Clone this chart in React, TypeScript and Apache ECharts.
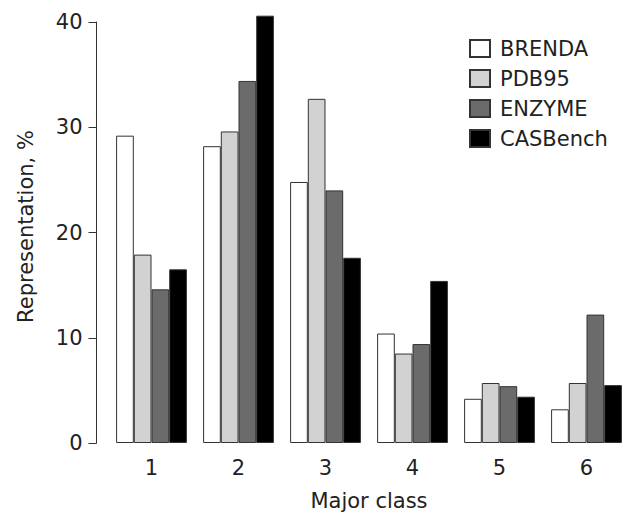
import React, { useEffect, useRef } from "react";
import * as echarts from "echarts";

const categories = ["1", "2", "3", "4", "5", "6"];
const brenda = [29.2, 28.2, 24.8, 10.4, 4.2, 3.2];
const pdb95 = [17.9, 29.6, 32.7, 8.5, 5.7, 5.7];
const enzyme = [14.6, 34.4, 24.0, 9.4, 5.4, 12.2];
const casbench = [16.5, 40.6, 17.6, 15.4, 4.4, 5.5];
const yTicks = [0, 10, 20, 30, 40];

const FONT = "DejaVu Sans";
const FS = 21;

export default function App() {
  const ref = useRef<HTMLDivElement>(null);
  useEffect(() => {
    if (!ref.current) return;
    const chart = echarts.init(ref.current, null, { renderer: "svg" });
    const mk = (name: string, data: number[], color: string) => ({
      name,
      type: "bar",
      data,
      barWidth: 17.7,
      barGap: "0%",
      clip: false,
      itemStyle: { color, borderColor: "#333", borderWidth: 1 },
    });
    chart.setOption({
      animation: false,
      backgroundColor: "#fff",
      textStyle: { fontFamily: FONT },
      grid: { left: 108, top: 22, width: 530, height: 426 },
      legend: {
        orient: "vertical",
        left: 469,
        top: 37,
        padding: 0,
        itemWidth: 20,
        itemHeight: 17,
        itemGap: 7,
        icon: "rect",
        textStyle: { fontFamily: FONT, fontSize: FS, color: "#222", padding: [0, 0, 0, 5], lineHeight: 23 },
        data: ["BRENDA", "PDB95", "ENZYME", "CASBench"],
      },
      xAxis: {
        type: "category",
        data: categories,
        axisLine: { show: false },
        axisTick: { show: false },
        axisLabel: { fontSize: FS, color: "#222", margin: 14, fontFamily: FONT },
        name: "Major class",
        nameLocation: "middle",
        nameGap: 47,
        nameTextStyle: { fontSize: FS, color: "#222", fontFamily: FONT },
      },
      yAxis: {
        type: "value",
        min: 0,
        max: 40,
        interval: 10,
        offset: 11.5,
        splitLine: { show: false },
        axisLine: { show: true, lineStyle: { color: "#333", width: 1 } },
        axisTick: { show: true, length: 8, lineStyle: { color: "#333" } },
        axisLabel: { fontSize: FS, color: "#222", margin: 14, fontFamily: FONT,
          formatter: (v: number) => (yTicks.includes(v) ? String(v) : "") },
        name: "Representation, %",
        nameLocation: "middle",
        nameGap: 60,
        nameTextStyle: { fontSize: FS, color: "#222", fontFamily: FONT, padding: [0, 0, 0, 12] },
      },
      series: [
        mk("BRENDA", brenda, "#ffffff"),
        mk("PDB95", pdb95, "#d2d2d2"),
        mk("ENZYME", enzyme, "#6b6b6b"),
        mk("CASBench", casbench, "#000000"),
      ],
    });
    return () => chart.dispose();
  }, []);
  return <div ref={ref} style={{ width: 630, height: 516, position: "absolute", left: 0, top: 0 }} />;
}
